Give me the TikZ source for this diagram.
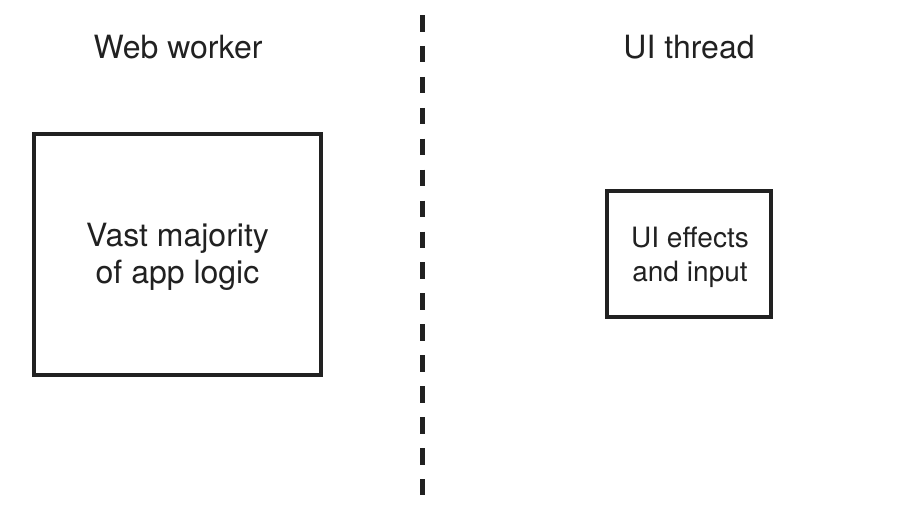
\documentclass[tikz,border=0pt]{standalone}
\usepackage{fontspec}
\setmainfont{TeX Gyre Heros}
\begin{document}
\begin{tikzpicture}[x=0.75pt,y=-0.75pt,
  box/.style={draw=black!87, line width=3.5pt, inner sep=0pt},
  boxtext/.style={align=center, text=black!87, inner sep=0pt},
  title/.style={text=black!87, font=\fontsize{24}{28}\selectfont},
  divider/.style={draw=black!87, line width=3.5pt, dash pattern=on 12.4pt off 10.8pt}]
\useasboundingbox (0,0) rectangle (906,512);
\node[title] (ww) at (178,47) {Web worker};
\node[title] (ui) at (689,47) {UI thread};
\node[box, minimum width=287*0.75pt, minimum height=241*0.75pt] (logic) at (177.5,254.5) {};
\node[boxtext, font=\fontsize{24}{27.5}\selectfont] (logictext) at (177.5,257) {Vast majority\\of app logic};
\node[box, minimum width=164*0.75pt, minimum height=126*0.75pt] (input) at (689,254) {};
\node[boxtext, font=\fontsize{21}{25.5}\selectfont] (inputtext) at (690,257) {UI effects\\and input};
\coordinate (top) at (422.5,15);
\coordinate (bot) at (422.5,494.5);
\draw[divider] (top) -- (bot);
\end{tikzpicture}
\end{document}
